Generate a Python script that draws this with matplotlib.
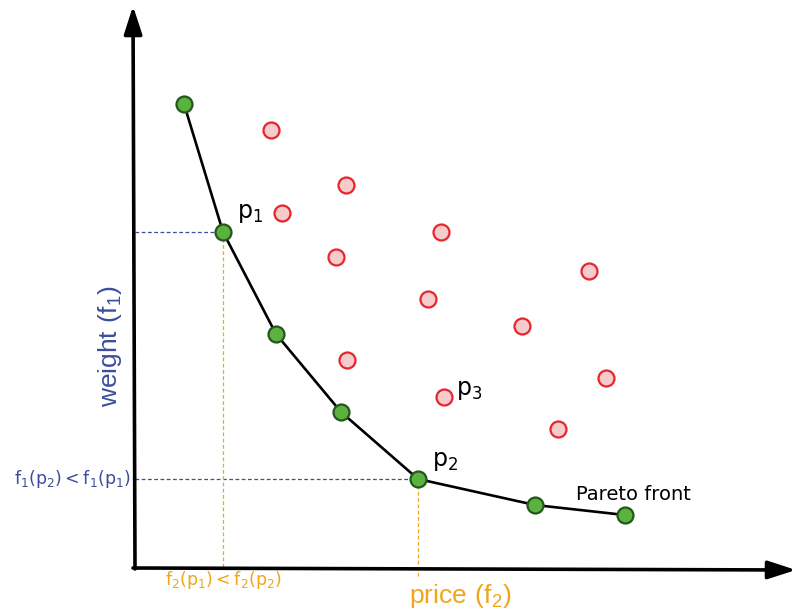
import matplotlib.pyplot as plt

plt.rcParams['mathtext.fontset'] = 'custom'
plt.rcParams['mathtext.rm'] = 'Liberation Sans'
plt.rcParams['mathtext.sf'] = 'DejaVu Sans'

# pareto front points (pixel-like coordinates, y grows downward)
front_x = [184, 223, 276, 341, 418, 535, 625]
front_y = [104, 232, 334, 412, 479, 505, 515]

# dominated points
other_x = [271, 346, 282, 441, 336, 589, 428, 522, 347, 606, 444, 558]
other_y = [130, 185, 213, 232, 257, 271, 299, 326, 360, 378, 397, 429]

p1 = (223, 232)
p2 = (418, 479)
origin = (135, 568)

BLUE = '#3c4d9c'
ORANGE = '#f0a51c'

fig = plt.figure(figsize=(7.96, 6.12), dpi=100)
ax = fig.add_axes([0, 0, 1, 1])
ax.set_xlim(0, 796)
ax.set_ylim(612, 0)
ax.axis('off')

# axes with arrows
arrow = dict(arrowstyle='-|>,head_length=1.7,head_width=0.55',
             lw=2.6, color='black', mutation_scale=10, shrinkA=0, shrinkB=0)
ax.annotate('', xy=(133, 6), xytext=(135, 569), arrowprops=arrow)
ax.annotate('', xy=(796, 570), xytext=(133, 568), arrowprops=arrow)

# guide lines
ax.plot([origin[0], p1[0]], [p1[1], p1[1]], lw=0.9, color=BLUE, dashes=(3, 2), zorder=1)
ax.plot([origin[0], p2[0]], [p2[1], p2[1]], lw=0.9, color=BLUE, dashes=(3, 2), zorder=1)
ax.plot([p1[0], p1[0]], [p1[1], origin[1]], lw=0.9, color=ORANGE, dashes=(3, 2), zorder=1)
ax.plot([p2[0], p2[0]], [p2[1], 576], lw=0.9, color=ORANGE, dashes=(3, 2), zorder=1)

# front
ax.plot(front_x, front_y, color='black', lw=1.9, zorder=2)
ax.plot(front_x, front_y, ls='none', marker='o', ms=11.5, mew=1.6,
        mfc='#5cb23e', mec='#23571b', zorder=3)
ax.plot(other_x, other_y, ls='none', marker='o', ms=11.5, mew=1.6,
        mfc='#f6cbcb', mec='#e8242c', zorder=3)

# labels
ax.text(237, 213, r'$\mathsf{p_1}$', fontsize=17, ha='left', va='center')
ax.text(432, 461, r'$\mathsf{p_2}$', fontsize=17, ha='left', va='center')
ax.text(456, 390, r'$\mathsf{p_3}$', fontsize=17, ha='left', va='center')
ax.text(576, 495, 'Pareto front', fontsize=14, ha='left', va='center')

ax.text(110, 346, r'$\mathrm{weight\ (f_1)}$', fontsize=19, color=BLUE,
        rotation=90, ha='center', va='center')
ax.text(460, 596, r'$\mathrm{price\ (f_2)}$', fontsize=19, color=ORANGE,
        ha='center', va='center')
ax.text(72, 479, r'$\mathsf{f_1(p_2) < f_1(p_1)}$', fontsize=12.5, color=BLUE,
        ha='center', va='center')
ax.text(223, 580, r'$\mathsf{f_2(p_1) < f_2(p_2)}$', fontsize=12.5, color=ORANGE,
        ha='center', va='center')

fig.savefig('out.png', dpi=100)
